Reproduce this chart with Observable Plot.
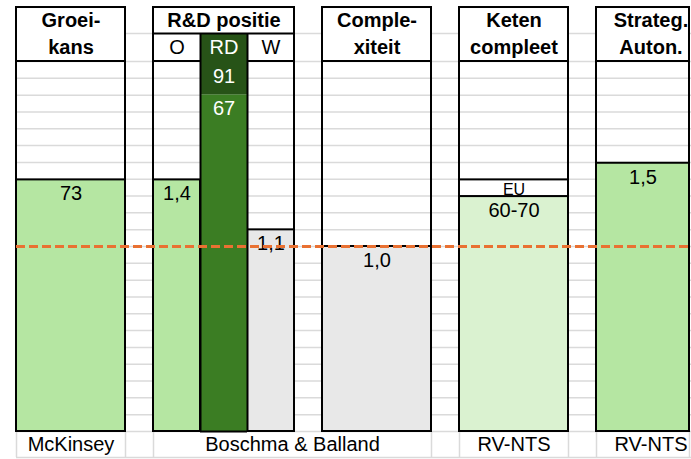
<!DOCTYPE html>
<html><head><meta charset="utf-8">
<script src="https://cdn.jsdelivr.net/npm/d3@7"></script>
<script src="https://cdn.jsdelivr.net/npm/@observablehq/plot@0.6"></script>
<style>body{margin:0;background:#fff} svg{display:block}</style>
</head><body><div id="chart"></div>
<script>
// ---- data ----
const headerLine1 = ["Groei-", "R&D positie", "Comple-", "Keten", "Strateg."];
const headerLine2 = ["kans", null, "xiteit", "compleet", "Auton."];
const rdSubLabels = ["O", "RD", "W"];
const sources = ["McKinsey", "Boschma & Balland", "RV-NTS", "RV-NTS"];
// bar heights as an index where the orange reference line = 1.0
const barColumns = ["Groeikans", "O", "RD", "W", "Complexiteit", "Keten", "Strateg"];
const barValues  = [1.36, 1.36, 1.82, 1.09, 1.00, 1.27, 1.45];
const barLabels  = ["73", "1,4", "67", "1,1", "1,0", "60-70", "1,5"];
// stacked top segments
const topColumns = ["RD", "Keten"];
const topValues  = [2.00, 1.36];
const topLabels  = ["91", "EU"];
const referenceValue = 1.0;
const yTop = 2.0;

// ---- layout / style ----
const W = 691, H = 459;
const ROW = 1 / 11;                 // one sheet row in index units
const headerMid = yTop + 1.66 * ROW;
const headerTop = yTop + 3.21 * ROW;
const footerBottom = -1.55 * ROW;
const LEFT = 16, GAP = 28;
const colWidths = [109, 141, 109, 109, 109];
const cols = [];
{ let x = LEFT; colWidths.forEach((w, i) => { cols.push({i, x1: x, x2: x + w, bx2: Math.min(x + w, W - 2)}); x += w + GAP; }); }
const sub = k => { const c = cols[1], w = (c.x2 - c.x1) / 3; return {x1: c.x1 + k * w, x2: c.x1 + (k + 1) * w}; };
const slot = {
  Groeikans: cols[0], O: sub(0), RD: sub(1), W: sub(2),
  Complexiteit: cols[2], Keten: cols[3], Strateg: cols[4]
};
const fills = {Groeikans: "#B5E6A2", O: "#B5E6A2", RD: "#3B7D23", W: "#E8E8E8",
  Complexiteit: "#E8E8E8", Keten: "#DAF2D0", Strateg: "#B5E6A2"};
const topFills = {RD: "#275317", Keten: "#FFFFFF"};
const bars = barColumns.map((c, i) => ({c, x1: slot[c].x1, x2: Math.min(slot[c].x2, W - 2), v: barValues[i], label: barLabels[i], fill: fills[c]}));
const prev = c => barValues[barColumns.indexOf(c)];
const tops = topColumns.map((c, i) => ({c, x1: slot[c].x1, x2: slot[c].x2, v0: prev(c), v: topValues[i], label: topLabels[i], fill: topFills[c]}));
const headers = cols.map((c, i) => ({...c, l1: headerLine1[i], l2: headerLine2[i]}));
const subs = rdSubLabels.map((l, k) => ({...sub(k), l}));
const srcCells = [
  {x1: cols[0].x1, x2: cols[0].x2, l: sources[0]},
  {x1: cols[1].x1, x2: cols[2].x2, l: sources[1]},
  {x1: cols[3].x1, x2: cols[3].x2, l: sources[2]},
  {x1: cols[4].x1, x2: cols[4].x2, l: sources[3]}
];
const gridLevels = d3.range(0, 23).map(k => k * ROW).concat([headerMid, footerBottom]);
const footerEdges = [cols[0].x1, cols[0].x2, cols[1].x1, cols[2].x2, cols[3].x1, cols[3].x2, cols[4].x1, cols[4].bx2];
const cx = d => (d.x1 + d.x2) / 2;
const BLACK = "#000", GRID = "#DADADA";
const FS = 20;
const rdBars = bars.filter(d => d.c === "RD");
const rdTop = tops.filter(d => d.c === "RD");
const rdSlot = [{...slot.RD}];

const chart = Plot.plot({
  width: W, height: H,
  marginTop: 0, marginBottom: 0, marginLeft: 0, marginRight: 0,
  x: {type: "linear", domain: [0, W], range: [0, W], axis: null},
  y: {domain: [-(H - 431) / 185, 431 / 185], range: [H, 0], axis: null},
  style: {fontFamily: "'Liberation Sans', Arial, sans-serif", background: "#fff"},
  marks: [
    Plot.ruleY(gridLevels, {y: d => d, x1: () => LEFT, x2: () => W, stroke: GRID, strokeWidth: 1.5}),
    Plot.ruleX(footerEdges, {x: d => d, y1: () => footerBottom, y2: () => 0, stroke: GRID, strokeWidth: 1.5}),
    // header boxes
    Plot.rect(headers, {x1: "x1", x2: "bx2", y1: () => yTop, y2: () => headerTop, fill: "#fff", stroke: BLACK, strokeWidth: 2}),
    // bars
    Plot.rect(bars.filter(d => d.c !== "RD"), {x1: "x1", x2: "x2", y1: () => 0, y2: "v", fill: "fill", stroke: BLACK, strokeWidth: 2}),
    Plot.rect(tops.filter(d => d.c !== "RD"), {x1: "x1", x2: "x2", y1: "v0", y2: "v", fill: "fill", stroke: BLACK, strokeWidth: 2}),
    // body boxes
    Plot.rect(cols, {x1: "x1", x2: "bx2", y1: () => 0, y2: () => yTop, fill: "none", stroke: BLACK, strokeWidth: 2}),
    // RD column
    Plot.rect(rdBars, {x1: "x1", x2: "x2", y1: () => 0, y2: "v", fill: "fill"}),
    Plot.rect(rdTop, {x1: "x1", x2: "x2", y1: "v0", y2: () => headerMid, fill: "fill"}),
    Plot.ruleY(rdSlot, {y: () => 0, x1: "x1", x2: "x2", stroke: BLACK, strokeWidth: 2}),
    Plot.ruleY([cols[1]], {y: () => headerMid, x1: "x1", x2: "x2", stroke: BLACK, strokeWidth: 2}),
    Plot.ruleX([sub(1).x1, sub(1).x2], {x: d => d, y1: () => 0, y2: () => headerMid, stroke: BLACK, strokeWidth: 2}),
    // header text
    Plot.text(headers, {x: cx, y: () => (headerTop + headerMid) / 2, text: "l1", fontWeight: "bold", fontSize: FS, fill: BLACK}),
    Plot.text(headers.filter(d => d.l2), {x: cx, y: () => (headerMid + yTop) / 2, text: "l2", fontWeight: "bold", fontSize: FS, fill: BLACK}),
    Plot.text(subs, {x: cx, y: () => (headerMid + yTop) / 2, text: "l", fontSize: FS, fill: d => d.l === "RD" ? "#fff" : BLACK}),
    // value labels
    Plot.text(bars, {x: cx, y: "v", text: "label", dy: 14, fontSize: FS, fill: d => d.c === "RD" ? "#fff" : BLACK}),
    Plot.text(rdTop, {x: cx, y: "v", text: "label", dy: 15, fontSize: FS, fill: "#fff"}),
    Plot.text(tops.filter(d => d.c !== "RD"), {x: cx, y: "v", text: "label", dy: 10, fontSize: 16, fill: BLACK}),
    // sources
    Plot.text(srcCells, {x: cx, y: () => footerBottom / 2, text: "l", fontSize: FS, fill: BLACK}),
    // reference line
    Plot.ruleY([referenceValue], {y: d => d, x1: () => LEFT, x2: () => W, stroke: "#E97132", strokeWidth: 3, strokeDasharray: "9,4"})
  ]
});
document.getElementById("chart").appendChild(chart);
</script>
</body></html>
